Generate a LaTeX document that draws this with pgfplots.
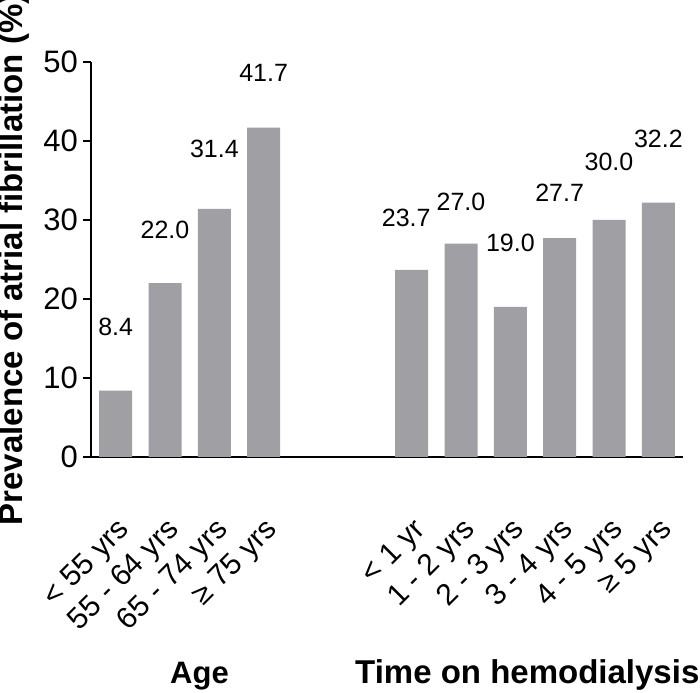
\documentclass[border=0pt]{standalone}
\usepackage{fontspec}
\setmainfont{Liberation Sans}
\usepackage{pgfplots}
\pgfplotsset{compat=1.18}
\definecolor{bargray}{RGB}{160,160,164}
\newcommand\tickfont{\fontsize{31pt}{36pt}\selectfont}
\newcommand\xlabfont{\fontsize{30pt}{34pt}\selectfont}
\begin{document}
\begin{tikzpicture}[x=1pt,y=1pt]
\useasboundingbox (0,0) rectangle (700,692);
\begin{axis}[
  at={(91pt,235pt)}, anchor=south west,
  scale only axis, width=592pt, height=395pt,
  xmin=-0.5, xmax=11.5, ymin=0, ymax=50,
  axis x line*=bottom, axis y line*=left,
  axis line style={line width=1.6pt, black},
  xtick={0,1,2,3,6,7,8,9,10,11},
  xticklabels={{< 55 yrs},{55 - 64 yrs},{65 - 74 yrs},{≥ 75 yrs},{< 1 yr},{1 - 2 yrs},{2 - 3 yrs},{3 - 4 yrs},{4 - 5 yrs},{≥ 5 yrs}},
  x tick style={draw=none},
  ytick={0,10,20,30,40,50},
  minor tick num=0,
  tick align=outside,
  major tick length=8pt,
  y tick style={line width=1.6pt, black},
  /pgf/number format/assume math mode=true,
  tick label style={font=\tickfont},
  every y tick label/.append style={font=\tickfont, inner sep=0pt, xshift=-5pt},
  every x tick label/.append style={font=\xlabfont, inner sep=0pt, anchor=base east, xshift=15pt, yshift=-66pt, rotate=45},
  clip=false,
]
\addplot[ybar, bar width=33pt, fill=bargray, draw=none] coordinates {
  (0,8.4) (1,22.0) (2,31.4) (3,41.7)
  (6,23.7) (7,27.0) (8,19.0) (9,27.7) (10,30.0) (11,32.2)
};
\begin{scope}[every node/.style={font=\fontsize{25}{25}\selectfont, inner sep=0pt, anchor=center}]
\node at (axis cs:0,16.5) {8.4};
\node at (axis cs:1,28.7) {22.0};
\node at (axis cs:2,39.0) {31.4};
\node at (axis cs:3,48.6) {41.7};
\node at (axis cs:5.89,30.3) {23.7};
\node at (axis cs:7,32.3) {27.0};
\node at (axis cs:8,27.1) {19.0};
\node at (axis cs:9,33.5) {27.7};
\node at (axis cs:10,37.3) {30.0};
\node at (axis cs:11,40.3) {32.2};
\end{scope}
\end{axis}
\node[rotate=90, anchor=base, inner sep=0pt, font=\fontsize{33}{33}\selectfont\bfseries] at (22,432.5) {Prevalence of atrial fibrillation (\%)};
\node[anchor=base west, inner sep=0pt, font=\fontsize{31}{31}\selectfont\bfseries] at (170,9) {Age};
\node[anchor=base west, inner sep=0pt, font=\fontsize{33}{33}\selectfont\bfseries] at (355,9) {Time on hemodialysis};
\end{tikzpicture}
\end{document}
